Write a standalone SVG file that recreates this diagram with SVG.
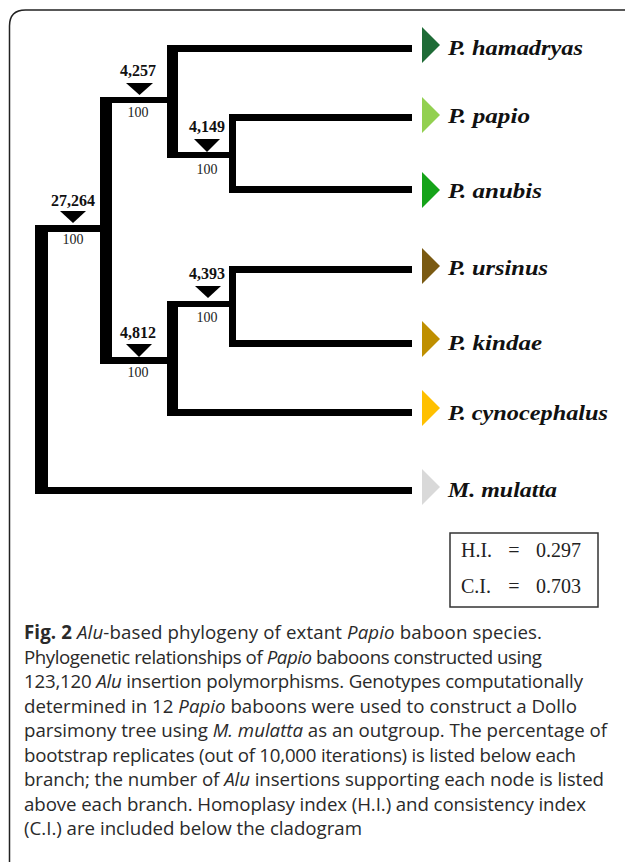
<svg xmlns="http://www.w3.org/2000/svg" width="625" height="862" viewBox="0 0 625 862">
<style>
.br{fill:#000}
.cnt{font-family:"Liberation Serif","Times New Roman",serif;font-weight:bold;font-size:16px;text-anchor:middle;fill:#111}
.bs{font-family:"Liberation Serif","Times New Roman",serif;font-size:14px;text-anchor:middle;fill:#222}
.mk{fill:#000}
.sp{font-family:"Liberation Serif","Times New Roman",serif;font-weight:bold;font-style:italic;font-size:22px;fill:#111}
.idx{font-family:"Liberation Serif","Times New Roman",serif;font-size:20px;fill:#222}
.cap{font-family:"Open Sans","Noto Sans",sans-serif;font-size:18.7px;fill:#2a2a2a}
.it{font-style:italic}
</style>
<rect width="625" height="862" fill="#fff"/>
<path d="M9.5 862 V26 Q9.5 10 25.5 10 H625" fill="none" stroke="#222" stroke-width="1.5"/>

<g id="connectors">
  <rect class="br" x="35" y="225" width="13" height="269"/>
  <rect class="br" x="35" y="225" width="77" height="7"/>
  <rect class="br" x="35" y="487" width="377" height="7"/>
  <rect class="br" x="100" y="97" width="12" height="267"/>
  <rect class="br" x="100" y="97" width="78" height="6"/>
  <rect class="br" x="167" y="45" width="11" height="113"/>
  <rect class="br" x="167" y="45" width="245" height="7"/>
  <rect class="br" x="167" y="152" width="69" height="6"/>
  <rect class="br" x="229" y="114" width="7" height="79"/>
  <rect class="br" x="229" y="114" width="183" height="7"/>
  <rect class="br" x="229" y="186" width="183" height="7"/>
  <rect class="br" x="100" y="357" width="78" height="7"/>
  <rect class="br" x="167" y="301" width="11" height="115"/>
  <rect class="br" x="167" y="301" width="69" height="6"/>
  <rect class="br" x="229" y="266" width="7" height="81"/>
  <rect class="br" x="229" y="266" width="183" height="7"/>
  <rect class="br" x="229" y="340" width="183" height="7"/>
  <rect class="br" x="167" y="409" width="245" height="7"/>
</g>

<g id="node-root">
  <text class="cnt" x="73" y="206">27,264</text>
  <polygon class="mk" points="60,211 86,211 73,223"/>
  <text class="bs" x="73" y="244">100</text>
</g>
<g id="node-4257">
  <text class="cnt" x="138" y="76">4,257</text>
  <polygon class="mk" points="126,83 153,83 139.5,95"/>
  <text class="bs" x="138" y="117">100</text>
</g>
<g id="node-4149">
  <text class="cnt" x="207" y="132">4,149</text>
  <polygon class="mk" points="194,139 220,139 207,152"/>
  <text class="bs" x="207" y="174">100</text>
</g>
<g id="node-4393">
  <text class="cnt" x="207" y="279">4,393</text>
  <polygon class="mk" points="195,286 221,286 208,298"/>
  <text class="bs" x="207" y="322">100</text>
</g>
<g id="node-4812">
  <text class="cnt" x="138" y="338">4,812</text>
  <polygon class="mk" points="126,344 152,344 139,357"/>
  <text class="bs" x="138" y="377">100</text>
</g>

<g id="leaf-hamadryas">
  <polygon points="422,27 422,63 440,45" fill="#1e6b36"/>
  <text class="sp" x="448" y="55" textLength="135" lengthAdjust="spacingAndGlyphs">P. hamadryas</text>
</g>
<g id="leaf-papio">
  <polygon points="422,97 422,133 440,115" fill="#92d050"/>
  <text class="sp" x="448" y="123" textLength="82" lengthAdjust="spacingAndGlyphs">P. papio</text>
</g>
<g id="leaf-anubis">
  <polygon points="422,172 422,208 440,190" fill="#15a319"/>
  <text class="sp" x="448" y="198" textLength="94" lengthAdjust="spacingAndGlyphs">P. anubis</text>
</g>
<g id="leaf-ursinus">
  <polygon points="422,248 422,284 440,266" fill="#7a5a12"/>
  <text class="sp" x="448" y="275" textLength="100" lengthAdjust="spacingAndGlyphs">P. ursinus</text>
</g>
<g id="leaf-kindae">
  <polygon points="422,321 422,357 440,339" fill="#bf8f00"/>
  <text class="sp" x="448" y="350" textLength="94" lengthAdjust="spacingAndGlyphs">P. kindae</text>
</g>
<g id="leaf-cynocephalus">
  <polygon points="422,390 422,426 440,408" fill="#ffc000"/>
  <text class="sp" x="448" y="420" textLength="160" lengthAdjust="spacingAndGlyphs">P. cynocephalus</text>
</g>
<g id="leaf-mulatta">
  <polygon points="422,469 422,505 440,487" fill="#d9d9d9"/>
  <text class="sp" x="448" y="497" textLength="109" lengthAdjust="spacingAndGlyphs">M. mulatta</text>
</g>

<g id="indices">
  <rect x="450" y="533" width="148" height="74" fill="none" stroke="#333" stroke-width="1.5"/>
  <text class="idx" x="461" y="557">H.I.</text>
  <text class="idx" x="514" y="557" text-anchor="middle">=</text>
  <text class="idx" x="536" y="557">0.297</text>
  <text class="idx" x="461" y="593">C.I.</text>
  <text class="idx" x="514" y="593" text-anchor="middle">=</text>
  <text class="idx" x="536" y="593">0.703</text>
</g>

<g id="caption">
  <text class="cap" x="24" y="639" textLength="518"><tspan font-weight="bold">Fig. 2</tspan> <tspan class="it">Alu</tspan>-based phylogeny of extant <tspan class="it">Papio</tspan> baboon species.</text>
  <text class="cap" x="24" y="663.5" textLength="518">Phylogenetic relationships of <tspan class="it">Papio</tspan> baboons constructed using</text>
  <text class="cap" x="24" y="688" textLength="559">123,120 <tspan class="it">Alu</tspan> insertion polymorphisms. Genotypes computationally</text>
  <text class="cap" x="24" y="712.5" textLength="553">determined in 12 <tspan class="it">Papio</tspan> baboons were used to construct a Dollo</text>
  <text class="cap" x="24" y="737" textLength="583">parsimony tree using <tspan class="it">M. mulatta</tspan> as an outgroup. The percentage of</text>
  <text class="cap" x="24" y="761.5" textLength="552">bootstrap replicates (out of 10,000 iterations) is listed below each</text>
  <text class="cap" x="24" y="786" textLength="580">branch; the number of <tspan class="it">Alu</tspan> insertions supporting each node is listed</text>
  <text class="cap" x="24" y="810.5" textLength="562">above each branch. Homoplasy index (H.I.) and consistency index</text>
  <text class="cap" x="24" y="835" textLength="338">(C.I.) are included below the cladogram</text>
</g>
</svg>
